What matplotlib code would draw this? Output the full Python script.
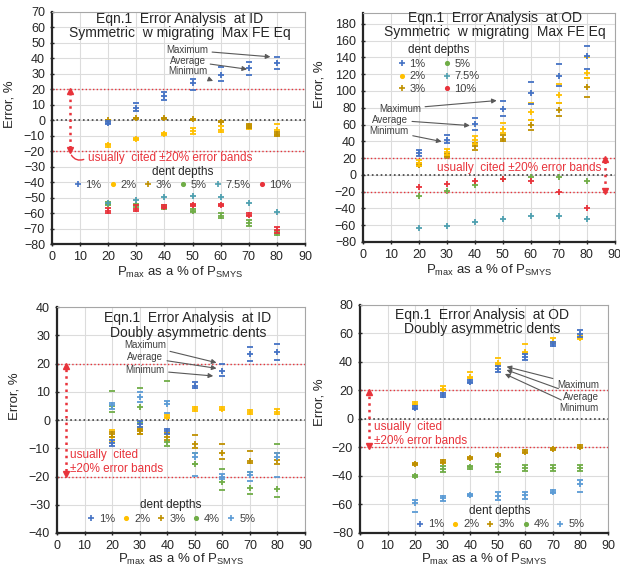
import matplotlib
matplotlib.use('Agg')
import matplotlib.pyplot as plt
import numpy as np
from matplotlib.lines import Line2D

plt.rcParams['font.family'] = ['Liberation Sans', 'DejaVu Sans']
plt.rcParams['mathtext.fontset'] = 'custom'
plt.rcParams['mathtext.rm'] = 'Liberation Sans'

RED = '#e8333b'
BLUE = '#4472c4'
LBLUE = '#5b9bd5'
YELLOW = '#ffc000'
GOLD = '#bf9000'
GREEN = '#70ad47'
TEAL = '#4fa0b0'

X = [20, 30, 40, 50, 60, 70, 80]

# --- top left: symmetric, ID ---
tl_1_avg = [-1.5, 8.2, 15.9, 23.9, 29.3, 33.6, 36.8]
tl_1_max = [-0.5, 11.0, 18.5, 26.7, 34.2, 37.9, 41.1]
tl_1_min = [-2.5, 6.0, 13.0, 19.6, 25.4, 29.3, 33.2]
tl_2_avg = [-16.2, -12.1, -9.1, -6.9, -6.0, -4.5, -6.0]
tl_2_max = [-15.5, -11.5, -8.5, -5.0, -4.0, -3.0, -2.6]
tl_2_min = [-17.0, -12.8, -9.8, -8.8, -7.5, -5.5, -9.5]
tl_3_avg = [0.0, 1.3, 1.3, 0.6, -0.9, -3.5, -8.9]
tl_3_max = [0.5, 1.8, 1.8, 1.1, -0.4, -2.5, -7.5]
tl_3_min = [-0.5, 0.8, 0.8, 0.1, -1.4, -4.8, -10.2]
tl_5_avg = [-54.0, -55.0, -56.0, -58.4, -61.9, -66.5, -73.0]
tl_5_max = [-53.0, -54.0, -55.0, -57.0, -60.0, -64.5, -71.5]
tl_5_min = [-55.0, -56.0, -57.0, -59.5, -63.0, -68.0, -74.0]
tl_75_avg = [-53.7, -51.5, -49.8, -48.9, -49.8, -53.2, -59.3]
tl_10_avg = [-58.4, -57.0, -55.8, -54.8, -54.8, -61.0, -71.0]
tl_10_max = [-56.5, -54.5, -55.0, -54.0, -54.3, -60.0, -69.0]
tl_10_min = [-60.0, -58.5, -56.8, -55.5, -55.3, -62.0, -73.0]

# --- top right: symmetric, OD ---
tr_1_avg = [26.6, 41.7, 60.4, 78.0, 98.0, 118.0, 142.0]
tr_1_max = [29.8, 47.7, 67.5, 88.6, 111.0, 132.0, 154.0]
tr_1_min = [22.6, 37.8, 53.6, 70.0, 85.0, 106.0, 126.0]
tr_2_avg = [14.0, 27.0, 41.0, 55.0, 75.0, 95.0, 122.0]
tr_2_max = [18.0, 31.0, 46.0, 62.0, 86.0, 108.0, 140.0]
tr_2_min = [11.0, 24.0, 37.0, 50.0, 66.0, 86.0, 116.0]
tr_3_avg = [12.0, 23.0, 34.0, 43.0, 60.0, 77.0, 105.0]
tr_3_max = [14.0, 25.0, 38.0, 48.0, 66.0, 86.0, 116.0]
tr_3_min = [10.0, 21.0, 30.0, 40.0, 54.0, 70.0, 93.0]
tr_5_avg = [-25.0, -19.0, -12.3, -5.0, -2.5, -2.8, -7.3]
tr_75_avg = [-63.6, -60.8, -56.4, -52.4, -48.5, -48.5, -52.4]
tr_10_avg = [-14.8, -10.7, -7.5, -5.5, -7.0, -21.0, -40.0]

# --- bottom left: doubly asymmetric, ID ---
bl_1_avg = [-8.3, -1.5, -4.0, 12.0, 17.5, 23.4, 24.0]
bl_1_max = [-7.0, -0.5, -3.0, 13.6, 20.0, 25.7, 27.0]
bl_1_min = [-9.2, -2.5, -5.0, 11.2, 15.5, 20.9, 21.2]
bl_2_avg = [-6.0, -3.5, 1.2, 4.0, 4.0, 2.8, 2.8]
bl_2_max = [-3.5, -2.5, 1.7, 4.5, 4.5, 3.5, 4.0]
bl_2_min = [-7.7, -5.0, 0.7, 3.3, 3.5, 2.0, 2.0]
bl_3_avg = [-5.0, -4.0, -6.0, -8.5, -11.6, -14.4, -14.2]
bl_3_max = [-4.2, -3.0, -4.5, -5.3, -8.5, -10.9, -11.6]
bl_3_min = [-6.0, -5.0, -7.0, -10.0, -13.9, -15.3, -15.7]
bl_4_avg = [5.0, 4.7, -7.9, -15.6, -21.8, -24.2, -24.5]
bl_4_max = [10.4, 11.4, 13.8, -11.8, -17.5, -18.3, -8.5]
bl_4_min = [2.9, -1.1, -9.1, -15.6, -24.8, -26.3, -27.1]
bl_5_avg = [5.3, 8.3, 5.7, -13.0, -20.0, -19.5, -13.0]
bl_5_max = [6.0, 10.0, 6.8, -11.5, -19.0, -18.5, -11.8]
bl_5_min = [4.0, 6.5, 2.4, -19.8, -21.0, -21.5, -20.3]

# --- bottom right: doubly asymmetric, OD ---
br_1_avg = [7.9, 16.8, 25.7, 35.1, 43.7, 52.5, 59.4]
br_1_max = [9.1, 18.5, 27.4, 37.2, 45.4, 54.0, 62.5]
br_1_min = [6.8, 15.7, 25.0, 33.2, 41.4, 51.2, 57.5]
br_2_avg = [10.5, 20.8, 29.3, 39.0, 46.8, 54.3, 56.5]
br_2_max = [12.2, 23.2, 33.2, 43.0, 52.4, 56.6, 58.2]
br_2_min = [10.0, 20.0, 28.5, 38.0, 46.0, 53.5, 55.9]
br_3_avg = [-31.8, -29.9, -27.6, -25.3, -22.9, -21.3, -19.4]
br_3_max = [-31.0, -29.0, -26.8, -24.5, -22.0, -20.5, -18.6]
br_3_min = [-32.6, -30.7, -28.4, -26.1, -23.7, -22.1, -20.2]
br_4_avg = [-39.8, -35.3, -33.9, -34.0, -34.6, -34.6, -34.6]
br_4_max = [-39.0, -33.0, -33.0, -31.5, -32.0, -32.0, -32.0]
br_4_min = [-40.6, -37.0, -34.8, -37.0, -36.5, -36.5, -36.5]
br_5_avg = [-59.2, -55.7, -53.3, -53.8, -53.3, -51.0, -45.6]
br_5_max = [-56.8, -54.0, -52.5, -51.0, -51.0, -50.0, -42.5]
br_5_min = [-65.0, -57.5, -54.0, -57.0, -56.0, -52.0, -51.5]

SYM_LABELS = ['1%', '2%', '3%', '5%', '7.5%', '10%']
SYM_COLORS = [BLUE, YELLOW, GOLD, GREEN, TEAL, RED]
SYM_MARKERS = ['+', '.', '+', '.', '+', '.']
ASY_LABELS = ['1%', '2%', '3%', '4%', '5%']
ASY_COLORS = [BLUE, YELLOW, GOLD, GREEN, LBLUE]
ASY_MARKERS = ['+', '.', '+', '.', '+']

XLABEL = r'P$_{\mathrm{max}}$ as a % of P$_{\mathrm{SMYS}}$'


def series(ax, avg, color, hi=None, lo=None):
    ax.plot(X, avg, ls='none', marker='+', ms=4.8, mew=1.3, color=color, zorder=3)
    if hi is not None:
        ax.plot(X, hi, ls='none', marker='_', ms=4.5, mew=1.3, color=color, zorder=3)
        ax.plot(X, lo, ls='none', marker='_', ms=4.5, mew=1.3, color=color, zorder=3)


def setup(ax, ylo, yhi, ystep, ytop):
    ax.set_xlim(0, 90)
    ax.set_ylim(ylo, ytop)
    ax.set_xticks(range(0, 91, 10))
    ax.set_yticks(np.arange(ylo, yhi + 1, ystep))
    ax.grid(color='#dcdcdc', lw=0.8)
    ax.set_axisbelow(True)
    for s in ('top', 'right'):
        ax.spines[s].set_color('#a6a6a6')
        ax.spines[s].set_linewidth(0.8)
    for s in ('left', 'bottom'):
        ax.spines[s].set_color('#262626')
        ax.spines[s].set_linewidth(1.6)
    ax.tick_params(labelsize=9, colors='#262626', length=3, width=1, direction='inout')
    ax.axhline(0, color='#404040', ls=':', lw=1.2, zorder=2)
    ax.axhline(20, color=RED, ls=':', lw=1.0, zorder=2)
    ax.axhline(-20, color=RED, ls=':', lw=1.0, zorder=2)
    ax.set_xlabel(XLABEL, fontsize=9.5, color='#262626')
    ax.set_ylabel('Error, %', fontsize=9.5, color='#262626')


def red_bar(ax, x):
    ax.plot([x, x], [-18, 18], color=RED, ls=':', lw=1.8, zorder=4)
    ax.plot([x], [19], marker='^', color=RED, ms=4, zorder=4)
    ax.plot([x], [-19], marker='v', color=RED, ms=4, zorder=4)


def titles(ax, x, y1, y2, line1, line2):
    ax.text(x, y1, line1, ha='center', va='center', fontsize=10, color='#262626')
    ax.text(x, y2, line2, ha='center', va='center', fontsize=10, color='#262626')


def mam(ax, texts, targets, ha='center'):
    for (tx, ty, s), (px, py) in zip(texts, targets):
        ax.annotate(s, xy=(px, py), xytext=(tx, ty), fontsize=7, color='#404040',
                    ha=ha, va='center',
                    arrowprops=dict(arrowstyle='-|>', color='#595959', lw=0.8,
                                    mutation_scale=7, shrinkA=1, shrinkB=0))


def legend(ax, labels, colors, markers, ncol, anchor, colsp=0.6):
    handles = [Line2D([], [], ls='none', marker=m, color=c, ms=5, mew=1.2)
               for m, c in zip(markers, colors)]
    leg = ax.legend(handles, labels, ncol=ncol, loc='center', bbox_to_anchor=anchor,
                    frameon=False, fontsize=8, title='dent depths', title_fontsize=8.5,
                    handlelength=0.8, handletextpad=0.3, columnspacing=colsp,
                    labelspacing=0.25, borderpad=0.1)
    for t in leg.get_texts():
        t.set_color('#404040')
    leg.get_title().set_color('#262626')


fig = plt.figure(figsize=(6.2, 5.69), dpi=100)

# top left
ax = fig.add_axes([0.0839, 0.571, 0.408, 0.408])
setup(ax, -80, 70, 10, 70)
series(ax, tl_2_avg, YELLOW, tl_2_max, tl_2_min)
series(ax, tl_3_avg, GOLD, tl_3_max, tl_3_min)
series(ax, tl_1_avg, BLUE, tl_1_max, tl_1_min)
series(ax, tl_5_avg, GREEN, tl_5_max, tl_5_min)
series(ax, tl_10_avg, RED, tl_10_max, tl_10_min)
series(ax, tl_75_avg, TEAL)
titles(ax, 45.5, 65.3, 56.2, 'Eqn.1  Error Analysis  at ID', 'Symmetric  w migrating  Max FE Eq')
mam(ax, [(48, 45.4, 'Maximum'), (48.4, 38.3, 'Average'), (48.4, 32, 'Minimum')],
    [(77.7, 41), (69.4, 33), (57.3, 25.4)])
red_bar(ax, 6.4)
ax.text(12.8, -24.6, 'usually  cited ±20% error bands', color=RED, fontsize=8.5, va='center')
ax.annotate('', xy=(6.4, -21), xytext=(12.2, -24.6),
            arrowprops=dict(arrowstyle='-', color=RED, lw=1.0, connectionstyle='arc3,rad=-0.5'))
legend(ax, SYM_LABELS, SYM_COLORS, SYM_MARKERS, 6, (0.516, 0.285))
ax.yaxis.set_label_coords(-0.146, 0.603)
ax.xaxis.set_label_coords(0.506, -0.088)

# top right
ax = fig.add_axes([0.5855, 0.5747, 0.406, 0.4025])
setup(ax, -80, 180, 20, 193)
series(ax, tr_3_avg, GOLD, tr_3_max, tr_3_min)
series(ax, tr_2_avg, YELLOW, tr_2_max, tr_2_min)
series(ax, tr_1_avg, BLUE, tr_1_max, tr_1_min)
series(ax, tr_5_avg, GREEN)
series(ax, tr_10_avg, RED)
series(ax, tr_75_avg, TEAL)
titles(ax, 47.1, 186.7, 170.8, 'Eqn.1  Error Analysis  at OD', 'Symmetric  w migrating  Max FE Eq')
mam(ax, [(13.2, 78.7, 'Maximum'), (9.6, 65.6, 'Average'), (9.3, 52.4, 'Minimum')],
    [(47.8, 88.6), (38.2, 58.8), (28.1, 39.7)])
red_bar(ax, 86.4)
ax.text(56, 8, 'usually  cited ±20% error bands', color=RED, fontsize=8.5, va='center', ha='center')
legend(ax, SYM_LABELS, SYM_COLORS, SYM_MARKERS, 2, (0.3, 0.755), colsp=1.5)
ax.yaxis.set_label_coords(-0.15, 0.69)
ax.xaxis.set_label_coords(0.5, -0.09)

# bottom left
ax = fig.add_axes([0.0919, 0.0633, 0.4, 0.397])
setup(ax, -40, 40, 10, 40)
series(ax, bl_2_avg, YELLOW, bl_2_max, bl_2_min)
series(ax, bl_3_avg, GOLD, bl_3_max, bl_3_min)
series(ax, bl_4_avg, GREEN, bl_4_max, bl_4_min)
series(ax, bl_5_avg, LBLUE, bl_5_max, bl_5_min)
series(ax, bl_1_avg, BLUE, bl_1_max, bl_1_min)
titles(ax, 47.5, 36, 30.7, 'Eqn.1  Error Analysis  at ID', 'Doubly asymmetric dents')
mam(ax, [(31.9, 26.5, 'Maximum'), (31.9, 22.2, 'Average'), (31.9, 17.7, 'Minimum')],
    [(57.9, 20.3), (57.9, 18.3), (56.7, 15.6)])
red_bar(ax, 3.2)
ax.text(4.7, -14.8, 'usually  cited\n±20% error bands', color=RED, fontsize=8.5,
        va='center', ha='left', linespacing=1.25)
legend(ax, ASY_LABELS, ASY_COLORS, ASY_MARKERS, 5, (0.46, 0.095))
ax.yaxis.set_label_coords(-0.149, 0.606)
ax.xaxis.set_label_coords(0.5, -0.085)

# bottom right
ax = fig.add_axes([0.5806, 0.0633, 0.4, 0.4007])
setup(ax, -80, 80, 20, 80)
series(ax, br_2_avg, YELLOW, br_2_max, br_2_min)
series(ax, br_1_avg, BLUE, br_1_max, br_1_min)
series(ax, br_3_avg, GOLD, br_3_max, br_3_min)
series(ax, br_4_avg, GREEN, br_4_max, br_4_min)
series(ax, br_5_avg, LBLUE, br_5_max, br_5_min)
titles(ax, 44.2, 73, 63, 'Eqn.1  Error Analysis  at OD', 'Doubly asymmetric dents')
mam(ax, [(71.5, 23.9, 'Maximum'), (73.5, 15.7, 'Average'), (72.5, 7.5, 'Minimum')],
    [(53.2, 36.7), (53.2, 34.4), (52.6, 31.6)], ha='left')
red_bar(ax, 3.4)
ax.text(5.1, -10.4, 'usually  cited\n±20% error bands', color=RED, fontsize=8.5,
        va='center', ha='left', linespacing=1.25)
legend(ax, ASY_LABELS, ASY_COLORS, ASY_MARKERS, 5, (0.565, 0.07))
ax.yaxis.set_label_coords(-0.141, 0.575)
ax.xaxis.set_label_coords(0.5, -0.085)

fig.savefig('out.png', dpi=100, facecolor='white')
